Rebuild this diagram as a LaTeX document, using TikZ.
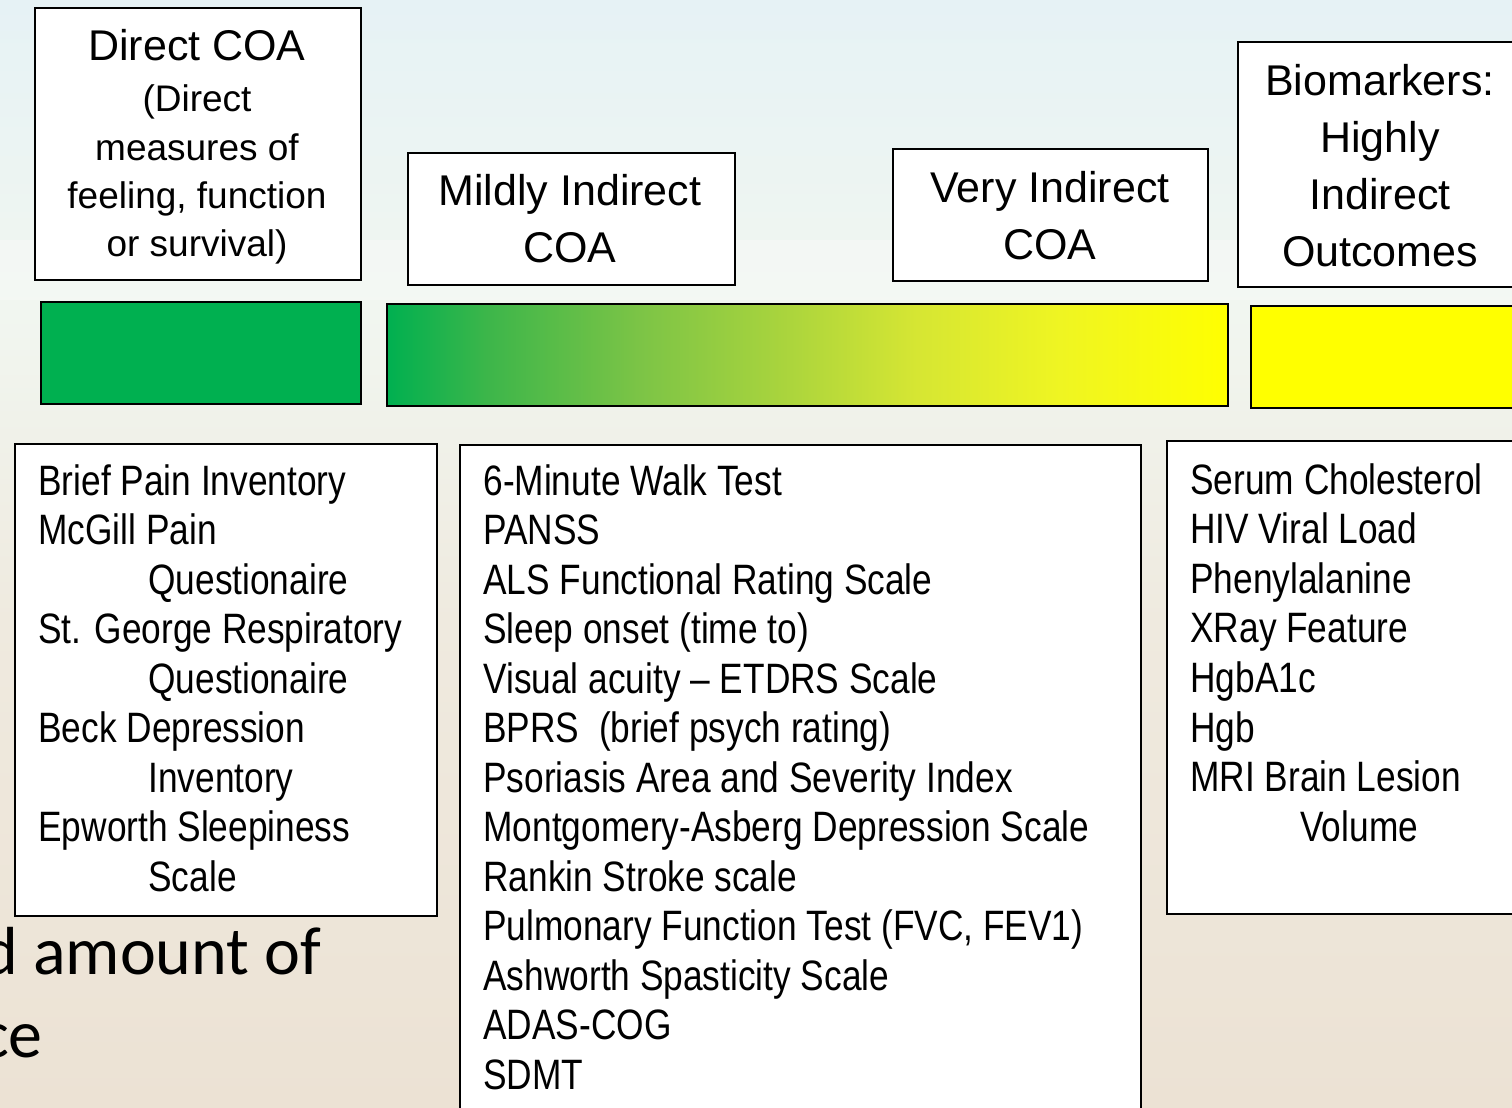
\documentclass[tikz,border=0pt]{standalone}
\usepackage{fontspec}
\setmainfont{Liberation Sans}
\newfontfamily\narrowsans[FakeStretch=0.83]{Liberation Sans}
\newfontfamily\calib{Carlito}

% background and bar colours
\definecolor{bgtop}{HTML}{E6F2F5}
\definecolor{bgmid}{HTML}{F1F6F0}
\definecolor{bglow}{HTML}{EFEADF}
\definecolor{bgbot}{HTML}{ECE2D4}
\definecolor{coagreen}{HTML}{00B050}
\definecolor{coayellow}{HTML}{FFFF00}
\definecolor{gA}{HTML}{3DB64A}
\definecolor{gB}{HTML}{7CC446}
\definecolor{gC}{HTML}{A9D43D}
\definecolor{gD}{HTML}{D6E633}
\definecolor{gE}{HTML}{EFF522}

% shadings are 100bp wide; the part that fills a path runs from 25bp to 75bp
\pgfdeclareverticalshading{slidebg}{100bp}{%
  color(0bp)=(bgbot); color(25bp)=(bgbot); color(47bp)=(bglow); color(61bp)=(bgmid);
  color(75bp)=(bgtop); color(100bp)=(bgtop)}
\pgfdeclarehorizontalshading{greentoyellow}{100bp}{%
  color(0bp)=(coagreen); color(25bp)=(coagreen); color(31bp)=(gA); color(40bp)=(gB);
  color(48.5bp)=(gC); color(56.5bp)=(gD); color(65bp)=(gE); color(75bp)=(coayellow);
  color(100bp)=(coayellow)}

\tikzset{
  frame/.style={draw=black, line width=1pt, fill=white, inner sep=0pt, anchor=north west},
  bar/.style={draw=black, line width=1.2pt, inner sep=0pt, anchor=north west},
  headtxt/.style={font=\fontsize{21.5}{28.5}\selectfont, inner sep=0pt, anchor=base},
  subtxt/.style={font=\fontsize{18.5}{24}\selectfont, inner sep=0pt, anchor=base},
  listtxt/.style={font=\narrowsans\fontsize{21.25}{24.7}\selectfont, inner sep=0pt, anchor=base west},
  bigtxt/.style={font=\calib\fontsize{34}{41}\selectfont, inner sep=0pt, anchor=base east},
}

\begin{document}
\begin{tikzpicture}[x=0.5pt, y=-0.5pt]
\useasboundingbox (0,0) rectangle (1512,1108);
\clip (0,0) rectangle (1512,1108);

% slide background
\shade[shading=slidebg] (0,0) rectangle (1512,1108);
\fill[white, opacity=0.25] (0,240) rectangle (1512,300);

% slide body text running off the left edge, partly hidden behind the boxes
\node[bigtxt] (body1) at (322,974) {d amount of};
\node[bigtxt] (body2) at (43,1057) {ce};

% category headings
\node[frame, minimum width=163pt, minimum height=136pt] (hdirect) at (34,7) {};
\node[headtxt] (hdirect-1) at (197,61) {Direct COA};
\node[subtxt] (hdirect-s1) at (197,112) {(Direct};
\node[subtxt] (hdirect-s2) at (197,160) {measures of};
\node[subtxt] (hdirect-s3) at (197,208) {feeling, function};
\node[subtxt] (hdirect-s4) at (197,256) {or survival)};

\node[frame, minimum width=163.5pt, minimum height=66pt] (hmild) at (407,152) {};
\node[headtxt] (hmild-1) at (570,205) {Mildly Indirect};
\node[headtxt] (hmild-2) at (570,262) {COA};

\node[frame, minimum width=157.5pt, minimum height=66pt] (hvery) at (892,148) {};
\node[headtxt] (hvery-1) at (1050,202) {Very Indirect};
\node[headtxt] (hvery-2) at (1050,259) {COA};

\node[frame, minimum width=150pt, minimum height=122.5pt] (hbio) at (1237,41) {};
\node[headtxt] (hbio-1) at (1380,95) {Biomarkers:};
\node[headtxt] (hbio-2) at (1380,152) {Highly};
\node[headtxt] (hbio-3) at (1380,209) {Indirect};
\node[headtxt] (hbio-4) at (1380,266) {Outcomes};

% colour scale
\node[bar, fill=coagreen, minimum width=160pt, minimum height=51pt] (bargreen) at (40,301) {};
\node[bar, shading=greentoyellow, minimum width=420.5pt, minimum height=51pt] (barmid) at (386,303) {};
\node[bar, fill=coayellow, minimum width=140pt, minimum height=51pt] (baryellow) at (1250,305) {};

% example measures
\node[frame, minimum width=211pt, minimum height=236pt] (ldirect) at (14,443) {};
\foreach \dx/\t [count=\i] in {0/Brief Pain Inventory, 0/McGill Pain, 110/Questionaire,
    0/St. George Respiratory, 110/Questionaire, 0/Beck Depression, 110/Inventory,
    0/Epworth Sleepiness, 110/Scale}
  \node[listtxt] (ldirect-\i) at ({38+\dx},{495+49.5*(\i-1)}) {\t};

\node[frame, minimum width=340.5pt, minimum height=340pt] (lmid) at (459,444) {};
\foreach \t [count=\i] in {6-Minute Walk Test, PANSS, ALS Functional Rating Scale,
    Sleep onset (time to), Visual acuity – ETDRS Scale, BPRS\ \ (brief psych rating),
    Psoriasis Area and Severity Index, Montgomery-Asberg Depression Scale,
    Rankin Stroke scale, {Pulmonary Function Test (FVC, FEV1)},
    Ashworth Spasticity Scale, ADAS-COG, SDMT}
  \node[listtxt] (lmid-\i) at (483,{495+49.5*(\i-1)}) {\t};

\node[frame, minimum width=200pt, minimum height=236.5pt] (lbio) at (1166,440) {};
\foreach \dx/\t [count=\i] in {0/Serum Cholesterol, 0/HIV Viral Load, 0/Phenylalanine,
    0/XRay Feature, 0/HgbA1c, 0/Hgb, 0/MRI Brain Lesion, 110/Volume}
  \node[listtxt] (lbio-\i) at ({1190+\dx},{494+49.6*(\i-1)}) {\t};
\end{tikzpicture}
\end{document}
